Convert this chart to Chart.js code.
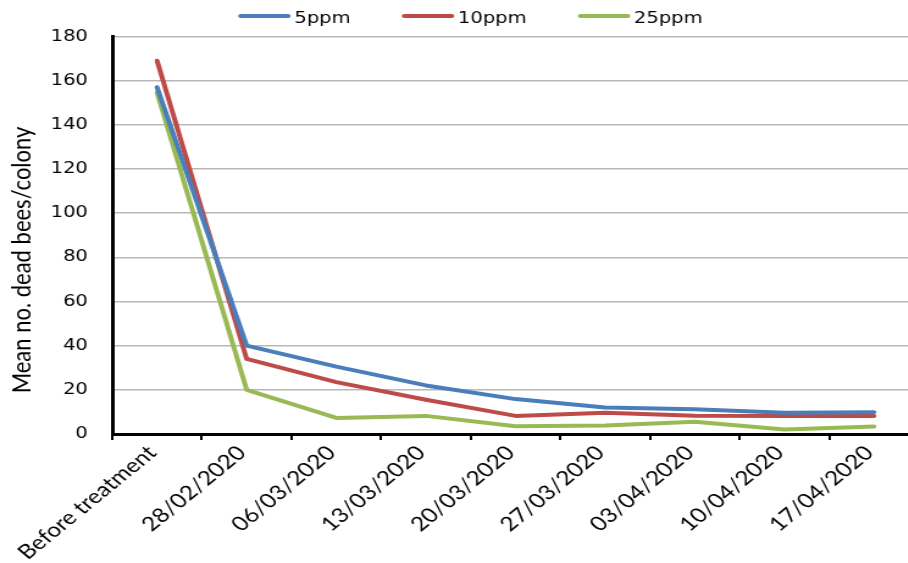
<!DOCTYPE html>
<html>
<head>
<meta charset="utf-8">
<script src="https://cdn.jsdelivr.net/npm/chart.js@4"></script>
<style>
  html, body { margin: 0; padding: 0; background: #fff; overflow: hidden; }
</style>
</head>
<body>
<!-- the canvas is drawn narrow and widened by CSS, giving the wide lettering -->
<canvas id="chart" width="754" height="563" style="display:block;width:920px;height:563px;"></canvas>
<script>
// Sampling dates
const categories = ['Before treatment', '28/02/2020', '06/03/2020', '13/03/2020', '20/03/2020',
                    '27/03/2020', '03/04/2020', '10/04/2020', '17/04/2020'];

// Mean number of dead bees per colony for each concentration
const ppm5  = [157, 40, 30.5, 22, 15.8, 12, 11.2, 9.6, 9.9];
const ppm10 = [169, 34, 23.5, 15.5, 8.2, 9.6, 8.3, 8.2, 8.2];
const ppm25 = [154.5, 20, 7.3, 8.2, 3.5, 3.8, 5.5, 2.0, 3.4];

const seriesNames = ['5ppm', '10ppm', '25ppm'];
const yMin = 0, yMax = 180, yStep = 20;
const yTitle = 'Mean no. dead bees/colony';

const colors = ['#4a7ebb', '#be4b48', '#98b954'];

// Line-sample legend above the plot
const lineLegend = {
  id: 'lineLegend',
  afterDraw(chart, args, opts) {
    const ctx = chart.ctx;
    ctx.save();
    ctx.font = opts.font;
    const items = chart.data.datasets.map(d => ({
      label: d.label, color: d.borderColor, w: ctx.measureText(d.label).width
    }));
    const total = items.reduce((s, it) => s + opts.lineLength + opts.gap + it.w, 0)
                + opts.spacing * (items.length - 1);
    let x = opts.centerX - total / 2;
    ctx.textBaseline = 'alphabetic';
    ctx.textAlign = 'left';
    for (const it of items) {
      ctx.strokeStyle = it.color;
      ctx.lineWidth = opts.lineWidth;
      ctx.lineCap = 'round';
      ctx.beginPath();
      ctx.moveTo(x + 1, opts.lineY);
      ctx.lineTo(x + opts.lineLength - 1, opts.lineY);
      ctx.stroke();
      x += opts.lineLength + opts.gap;
      ctx.fillStyle = opts.color;
      ctx.fillText(it.label, x, opts.textY);
      x += it.w + opts.spacing;
    }
    ctx.restore();
  }
};

// Rotated title for the value axis
const valueAxisTitle = {
  id: 'valueAxisTitle',
  afterDraw(chart, args, opts) {
    const ctx = chart.ctx;
    ctx.save();
    ctx.translate(opts.x, opts.y);
    ctx.rotate(-Math.PI / 2);
    ctx.font = opts.font;
    ctx.fillStyle = opts.color;
    ctx.textAlign = 'center';
    ctx.textBaseline = 'middle';
    ctx.fillText(opts.text, 0, 0);
    ctx.restore();
  }
};

const seriesData = [ppm5, ppm10, ppm25];

function drawChart() {
  new Chart(document.getElementById('chart'), {
    type: 'line',
    data: {
      labels: categories,
      datasets: seriesNames.map((name, i) => ({
        label: name,
        data: seriesData[i],
        borderColor: colors[i],
        backgroundColor: colors[i],
        borderWidth: 4,
        borderCapStyle: 'round',
        borderJoinStyle: 'round',
        pointRadius: 0,
        pointHoverRadius: 0,
        tension: 0,
        fill: false
      }))
    },
    options: {
      responsive: false,
      animation: false,
      devicePixelRatio: 1,
      layout: { padding: { top: 36.5, left: 0, right: 1, bottom: 0 } },
      plugins: {
        legend: { display: false },
        tooltip: { enabled: false },
        lineLegend: {
          font: '16px "DejaVu Sans"',
          color: '#000',
          centerX: 386,
          lineY: 16,
          textY: 22.5,
          lineLength: 41,
          lineWidth: 4,
          gap: 4,
          spacing: 43
        },
        valueAxisTitle: {
          text: yTitle,
          font: '22px Lato',
          color: '#000',
          x: 17.5,
          y: 260
        }
      },
      scales: {
        x: {
          type: 'category',
          offset: true,
          grid: {
            display: true,
            offset: true,
            drawOnChartArea: false,
            drawTicks: true,
            tickLength: 6,
            color: '#000',
            lineWidth: 2
          },
          border: { color: '#000', width: 3 },
          ticks: {
            autoSkip: false,
            maxRotation: 45,
            minRotation: 45,
            color: '#000',
            font: { family: 'Lato', size: 20 },
            padding: 1,
            labelOffset: -4
          },
          afterFit(scale) { scale.height = 129; }
        },
        y: {
          min: yMin,
          max: yMax,
          ticks: {
            stepSize: yStep,
            color: '#000',
            font: { family: 'DejaVu Sans', size: 16 },
            padding: 20
          },
          grid: { color: '#b8b8b8', lineWidth: 1.5, drawTicks: false },
          border: { color: '#000', width: 3 },
          afterFit(scale) { scale.width = 92; }
        }
      }
    },
    plugins: [lineLegend, valueAxisTitle]
  });
}

// make sure the named fonts are ready before the canvas text is drawn
Promise.all([
  document.fonts.load('20px Lato'),
  document.fonts.load('22px Lato'),
  document.fonts.load('16px "DejaVu Sans"')
]).then(drawChart, drawChart);
</script>
</body>
</html>
